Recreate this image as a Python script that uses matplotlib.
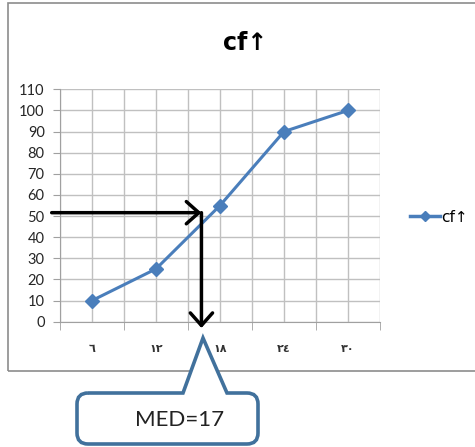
import matplotlib.pyplot as plt
from matplotlib.path import Path
from matplotlib.patches import PathPatch, Rectangle
from matplotlib.lines import Line2D
from matplotlib.ticker import MultipleLocator, FixedLocator

plt.rcParams["font.family"] = ["Lato", "DejaVu Sans"]

# data
categories = ["٦", "١٢", "١٨", "٢٤", "٣٠"]
cf_values = [10, 25, 55, 90, 100]
series_name = "cf↑"
median_label = "MED=17"
median_level = 51.6   # where the drawn arrow meets the curve
median_pos = 2.71     # position on the category axis

W, H = 475, 447
fig = plt.figure(figsize=(W / 100, H / 100), dpi=100)
ax = fig.add_axes([60 / W, 1 - 321.7 / H, 320 / W, 232.4 / H])

x = list(range(1, len(categories) + 1))
ax.plot(x, cf_values, color="#4A7EBB", lw=2.2, marker="D", ms=7,
        label=series_name, zorder=3)

ax.set_xlim(0.5, len(categories) + 0.5)
ax.set_ylim(0, 110)
ax.yaxis.set_major_locator(MultipleLocator(10))
ax.set_xticks(x)
ax.set_xticklabels(categories, family=["DejaVu Sans"], fontsize=8,
                   fontweight="bold", color="#333333")
ax.xaxis.set_minor_locator(FixedLocator([i + 0.5 for i in range(0, len(categories) + 1)]))

grid_c = "#C0C0C0"
ax.grid(True, which="both", axis="x", color=grid_c, lw=1)
ax.grid(True, which="major", axis="y", color=grid_c, lw=1)
ax.set_axisbelow(True)
for s in ["top", "right"]:
    ax.spines[s].set_visible(False)
for s in ["left", "bottom"]:
    ax.spines[s].set_color("#A0A0A0")
ax.tick_params(axis="y", length=5, color="#A0A0A0", labelsize=10.5, pad=6,
               labelcolor="#262626")
ax.tick_params(axis="x", which="major", length=0, pad=16)
ax.tick_params(axis="x", which="minor", length=6, color="#A0A0A0")

# chart title, centred on the whole chart area
fig.text(245 / W, 1 - 43 / H, series_name, ha="center", va="center",
         fontsize=17, fontweight="bold", family=["DejaVu Sans"])

handle = Line2D([], [], color="#4A7EBB", lw=2.5, marker="D", ms=5)
ax.legend([handle], [series_name], loc="center left",
          bbox_to_anchor=(1.05, 0.45), frameon=False,
          handlelength=2.0, handletextpad=0.05,
          prop={"family": ["DejaVu Sans"], "size": 11})

# median arrows
arrow = dict(arrowstyle="->,head_length=0.45,head_width=0.4", color="black",
             lw=2.5, shrinkA=0, shrinkB=0, mutation_scale=20)
ax.annotate("", xy=(median_pos, median_level), xytext=(0.37, median_level),
            arrowprops=arrow, annotation_clip=False, zorder=5)
ax.annotate("", xy=(median_pos, -3.0), xytext=(median_pos, median_level),
            arrowprops=arrow, annotation_clip=False, zorder=5)

# chart border
fig.patches.append(Rectangle((8 / W, 1 - 371 / H), 1, 368 / H,
                             transform=fig.transFigure, fill=False,
                             ec="#8C8C8C", lw=1.2))

# callout box
def px(xp, yp):
    return (xp / W, 1 - yp / H)

l, r, t, b, rad = 77, 258, 393, 444, 11
pts = [px(l + rad, t), px(183, t), px(203, 338), px(227, t), px(r - rad, t),
       px(r, t), px(r, t + rad), px(r, b - rad), px(r, b), px(r - rad, b),
       px(l + rad, b), px(l, b), px(l, b - rad), px(l, t + rad), px(l, t),
       px(l + rad, t)]
codes = [Path.MOVETO, Path.LINETO, Path.LINETO, Path.LINETO, Path.LINETO,
         Path.CURVE3, Path.CURVE3, Path.LINETO, Path.CURVE3, Path.CURVE3,
         Path.LINETO, Path.CURVE3, Path.CURVE3, Path.LINETO, Path.CURVE3,
         Path.CURVE3]
fig.patches.append(PathPatch(Path(pts, codes), transform=fig.transFigure,
                             fc="white", ec="#41719C", lw=2.6, joinstyle="miter"))
fig.text(180 / W, 1 - 420 / H, median_label, ha="center", va="center",
         fontsize=16, color="#222222")

fig.savefig("out.png", dpi=100)
